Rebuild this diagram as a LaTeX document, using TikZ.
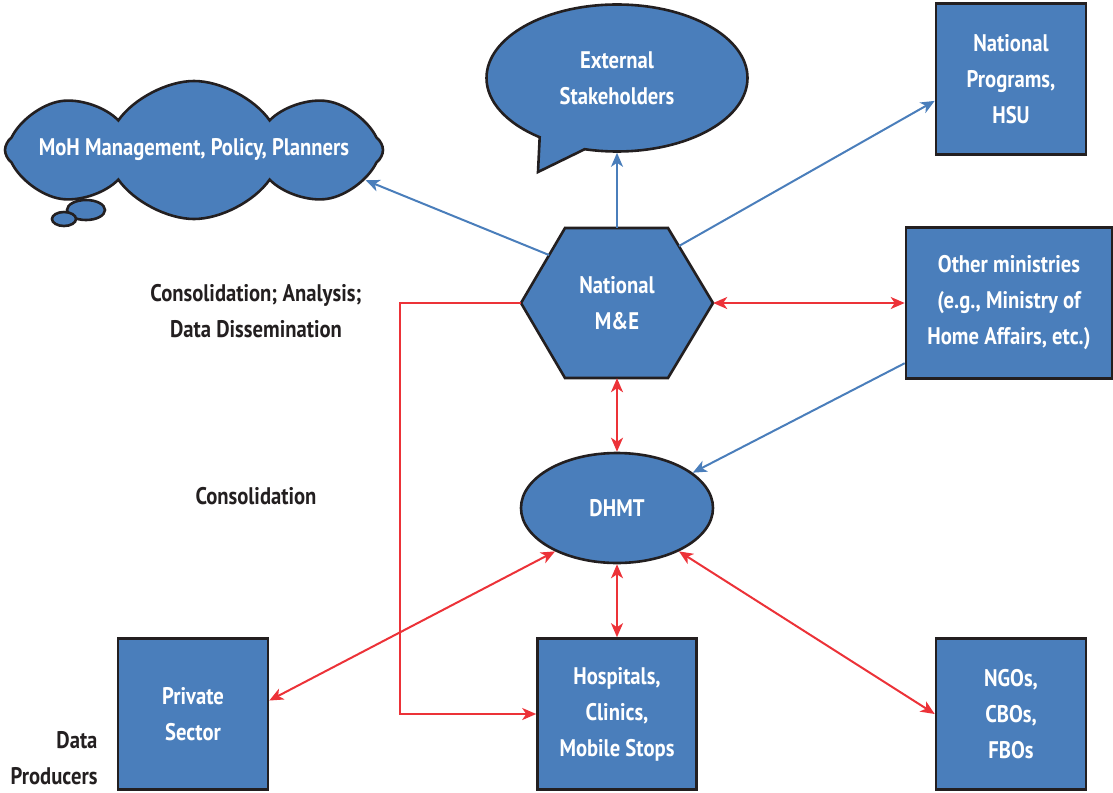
\documentclass[tikz,border=0pt]{standalone}
\usepackage{fontspec}
\setmainfont{PT Sans}[FakeStretch=0.86]
\usetikzlibrary{shapes.symbols,shapes.callouts,shapes.geometric,arrows.meta}
\definecolor{shapeblue}{RGB}{74,126,187}
\definecolor{linkred}{RGB}{236,50,56}
\definecolor{linkblue}{RGB}{74,126,187}
\definecolor{outline}{RGB}{35,31,32}
\begin{document}
\begin{tikzpicture}
[x=1pt,y=-1pt,
  every node/.style={font=\fontsize{24}{36}\selectfont\bfseries,text=outline},
  shapedecorate/.style={fill=shapeblue,draw=outline,line width=2.6pt,text=white,align=center},
  boxdecorate/.style={shapedecorate,inner sep=0pt,minimum height=151pt},
  bluearrow/.style={->,>={Stealth[length=14pt,width=12pt,inset=4pt]},draw=linkblue,line width=2pt},
  redarrow/.style={<->,>={Stealth[length=14pt,width=12pt,inset=4pt]},draw=linkred,line width=2pt}]
\useasboundingbox (0,0) rectangle (1113,792);
%% boxes
\foreach \nodename/\x/\y/\w/\txt in {
  nprog/1011/79/150/{National\\Programs,\\HSU},
  omin/1009/303/206/{Other ministries\\(e.g., Ministry of\\Home Affairs, etc.)},
  priv/193/714/150/{Private\\Sector},
  hosp/617/714/159/{Hospitals,\\Clinics,\\Mobile Stops},
  ngo/1011/714/150/{NGOs,\\CBOs,\\FBOs}} {
  \node (\nodename) at (\x,\y) [boxdecorate,minimum width=\w pt] {\txt};
}
%% other shapes
\draw[shapedecorate] (86,210) ellipse (19pt and 10pt);
\draw[shapedecorate] (64,219) ellipse (12pt and 7pt);
\node (moh) at (194,150) [cloud,cloud puffs=8,cloud puff arc=110,aspect=2.8,
  shapedecorate,minimum width=378pt,minimum height=138pt,inner sep=0pt,
  label={[text=white]center:MoH Management, Policy, Planners}] {};
\node (ext) at (617,78) [ellipse callout,shapedecorate,minimum width=261pt,
  minimum height=147pt,callout absolute pointer={(538,172)},callout pointer arc=22]
  {External\\Stakeholders};
\draw[shapedecorate] (521,303) -- (565,228) -- (668,228) -- (713,303)
  -- (668,378) -- (565,378) -- cycle;
\node (nme) at (617,303) [minimum width=192pt,minimum height=150pt,inner sep=0pt,
  text=white,align=center] {National\\M\&E};
\coordinate (hexUL) at (549,255);
\coordinate (hexUR) at (679,246);
\node (dhmt) at (617,508) [ellipse,shapedecorate,minimum width=192pt,minimum height=110pt] {DHMT};
%% levels
\node (lvlnat) at (256,311) [align=center] {Consolidation; Analysis;\\Data Dissemination};
\node (lvldist) at (256,496) {Consolidation};
\node (lvlprod) at (101,758) [anchor=east,align=right] {Data\\Producers};
%% edges
\draw[bluearrow] (hexUL) -- (moh.-10);
\draw[bluearrow] (nme.north) -- (ext.south);
\draw[bluearrow] (hexUR) -- (nprog.196);
\draw[bluearrow] (omin.210) -- (dhmt.25);
\foreach \startnode/\endnode in {nme.east/omin.west, nme.south/dhmt.north,
  dhmt.south/hosp.north, dhmt.215/priv.10, dhmt.-35/ngo.west} {
  \draw[redarrow] (\startnode) -- (\endnode);
}
\draw[redarrow,->] (nme.west) -- ++(-121,0) |- (hosp.west);
\end{tikzpicture}
\end{document}
